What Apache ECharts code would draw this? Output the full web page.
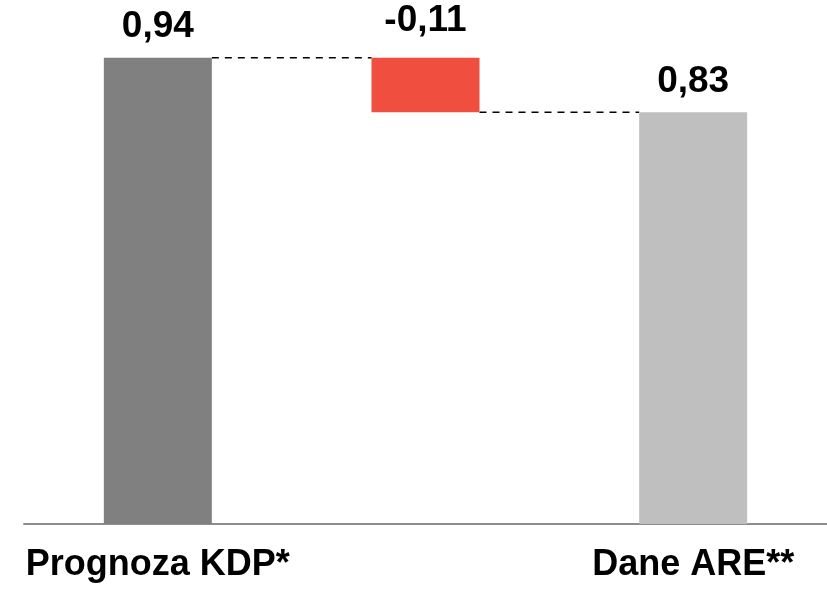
<!DOCTYPE html>
<html>
<head>
<meta charset="utf-8">
<script src="https://cdn.jsdelivr.net/npm/echarts@6/dist/echarts.min.js"></script>
<style>
  html, body { margin: 0; padding: 0; background: #fff; }
  #chart { width: 827px; height: 589px; }
</style>
</head>
<body>
<div id="chart"></div>
<script>
// waterfall: forecast -> change -> actual
const categories = ['Prognoza KDP*', '', 'Dane ARE**'];
const baseValues = [0, 0.83, 0];        // invisible offset under each bar
const barValues = [0.94, 0.11, 0.83];   // visible bar heights
const labelValues = [0.94, -0.11, 0.83];
const barColors = ['#808080', '#f04e3e', '#bfbfbf'];
const connectorLevels = [0.94, 0.83];   // dashed line from bar i to bar i+1

const BAR_W = 108;

function fmt(v) {
  return v.toFixed(2).replace('.', ',');
}

const chart = echarts.init(document.getElementById('chart'));

chart.setOption({
  animation: false,
  grid: { left: 24, right: -3, top: 28, bottom: 65 },
  xAxis: {
    type: 'category',
    data: categories,
    axisLine: { lineStyle: { color: '#8c8c8c', width: 2 } },
    axisTick: { show: false },
    axisLabel: {
      margin: 23,
      color: '#000',
      fontFamily: 'Liberation Sans, Arial, sans-serif',
      fontWeight: 'bold',
      fontSize: 36
    }
  },
  yAxis: {
    type: 'value',
    min: 0,
    max: 1,
    show: false,
    splitLine: { show: false }
  },
  series: [
    {
      type: 'bar',
      stack: 'wf',
      barWidth: BAR_W,
      itemStyle: { color: 'transparent' },
      data: baseValues
    },
    {
      type: 'bar',
      stack: 'wf',
      barWidth: BAR_W,
      data: barValues.map((v, i) => ({
        value: v,
        itemStyle: { color: barColors[i] },
        label: {
          show: true,
          position: 'top',
          distance: i === 1 ? 18 : 12,
          formatter: () => fmt(labelValues[i]),
          color: '#000',
          fontFamily: 'Liberation Sans, Arial, sans-serif',
          fontWeight: 'bold',
          fontSize: 37
        }
      }))
    },
    {
      type: 'custom',
      silent: true,
      data: connectorLevels.map((v, i) => [i, v]),
      renderItem: function (params, api) {
        const i = api.value(0);
        const lvl = api.value(1);
        const p1 = api.coord([i, lvl]);
        const p2 = api.coord([i + 1, lvl]);
        return {
          type: 'line',
          shape: {
            x1: p1[0] + BAR_W / 2, y1: p1[1],
            x2: p2[0] - BAR_W / 2, y2: p2[1]
          },
          style: { stroke: '#000', lineWidth: 1.4, lineDash: [7, 6] }
        };
      }
    }
  ]
});
</script>
</body>
</html>
